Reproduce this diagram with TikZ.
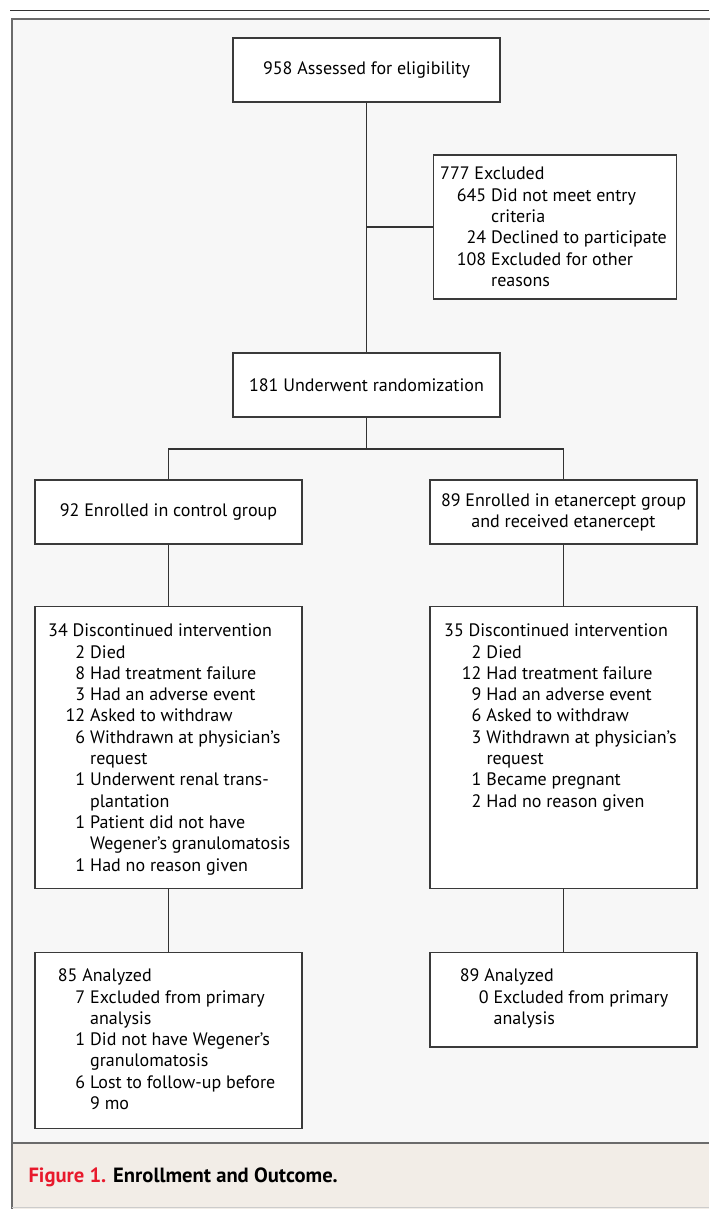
\documentclass[tikz,border=0pt]{standalone}
\usepackage{fontspec}
\setmainfont{PT Sans}
\definecolor{boxline}{HTML}{3A3A3A}
\definecolor{conn}{HTML}{333333}
\definecolor{frameline}{HTML}{6B6B6B}
\definecolor{framebg}{HTML}{F7F7F7}
\definecolor{capbg}{HTML}{F2EDE7}
\definecolor{nejmred}{HTML}{E8192C}
\newlength{\numw}
\newlength{\numgap}
\setlength{\numgap}{5pt}
\newcommand{\hd}[1]{#1\par}
\newcommand{\li}[2]{\makebox[\numw][r]{#1}\hspace{\numgap}#2\par}
\newcommand{\lc}[1]{\hspace*{\dimexpr\numw+\numgap\relax}#1\par}
\newcommand{\blk}[2]{\parbox[t]{260pt}{\setlength{\numw}{#1}\fontsize{18pt}{21.3pt}\selectfont #2}}
\tikzset{
  box/.style={draw=boxline, line width=1.2pt, fill=white, inner sep=0pt, minimum width=267pt, minimum height=64pt, font=\fontsize{18pt}{21pt}\selectfont, align=center},
  txt/.style={anchor=base west, inner sep=0pt, align=left},
  link/.style={draw=conn, line width=1.1pt}
}
\begin{document}
\begin{tikzpicture}[x=1pt, y=-1pt]
\useasboundingbox (0,0) rectangle (709,1209);
% frame
\fill[framebg] (12,19) rectangle (709,1143.3);
\fill[capbg] (12,1143.3) rectangle (709,1209);
\draw[conn, line width=1.2pt] (10,10.7) -- (709,10.7);
\draw[frameline, line width=2pt] (710,19) -- (12,19) -- (12,1210);
\draw[frameline, line width=2pt] (12,1143.3) -- (709,1143.3);
\draw[black!20, line width=1pt] (12,1207.5) -- (709,1207.5);

% boxes
\node[box] (assess) at (366.5,70) {958 Assessed for eligibility};
\node[box, minimum width=243pt, minimum height=144pt] (exclude) at (555,227) {};
\node[box] (random) at (366.5,385) {181 Underwent randomization};
\node[box] (control) at (168.5,512) {92 Enrolled in control group};
\node[box] (etan) at (563.5,512) {89 Enrolled in etanercept group\\and received etanercept};
\node[box, minimum height=281.7pt] (discL) at (168.5,747.35) {};
\node[box, minimum height=281.7pt] (discR) at (563.5,747.35) {};
\node[box, minimum height=176.4pt] (anaL) at (168.5,1040.5) {};
\node[box, minimum height=94.7pt] (anaR) at (563.5,999.65) {};

% box texts
\node[txt] (excludeT) at (440,180) {\blk{46pt}{%
\hd{777 Excluded}
\li{645}{Did not meet entry}
\lc{criteria}
\li{24}{Declined to participate}
\li{108}{Excluded for other}
\lc{reasons}}};
\node[txt] (discLT) at (48,636.7) {\blk{37pt}{%
\hd{34 Discontinued intervention}
\li{2}{Died}
\li{8}{Had treatment failure}
\li{3}{Had an adverse event}
\li{12}{Asked to withdraw}
\li{6}{Withdrawn at physician’s}
\lc{request}
\li{1}{Underwent renal trans-}
\lc{plantation}
\li{1}{Patient did not have}
\lc{Wegener’s granulomatosis}
\li{1}{Had no reason given}}};
\node[txt] (discRT) at (444,636.7) {\blk{37.3pt}{%
\hd{35 Discontinued intervention}
\li{2}{Died}
\li{12}{Had treatment failure}
\li{9}{Had an adverse event}
\li{6}{Asked to withdraw}
\li{3}{Withdrawn at physician’s}
\lc{request}
\li{1}{Became pregnant}
\li{2}{Had no reason given}}};
\node[txt] (anaLT) at (57.7,981.7) {\blk{27.3pt}{%
\hd{85 Analyzed}
\li{7}{Excluded from primary}
\lc{analysis}
\li{1}{Did not have Wegener’s}
\lc{granulomatosis}
\li{6}{Lost to follow-up before}
\lc{9 mo}}};
\node[txt] (anaRT) at (459.7,981.7) {\blk{28.7pt}{%
\hd{89 Analyzed}
\li{0}{Excluded from primary}
\lc{analysis}}};

% connectors
\coordinate (split) at (366.5,449);
\draw[link] (assess.south) -- (random.north);
\draw[link] (exclude.west) -- (exclude.west -| assess.south);
\draw[link] (random.south) -- (split);
\draw[link] (control.north) |- (split) -| (etan.north);
\draw[link] (control.south) -- (discL.north);
\draw[link] (etan.south) -- (discR.north);
\draw[link] (discL.south) -- (anaL.north);
\draw[link] (discR.south) -- (anaR.north);

% caption
\node[txt, font=\fontsize{20.6pt}{24pt}\selectfont\bfseries] (caption) at (28.3,1182.3) {\textcolor{nejmred}{Figure 1.} Enrollment and Outcome.};
\end{tikzpicture}
\end{document}
